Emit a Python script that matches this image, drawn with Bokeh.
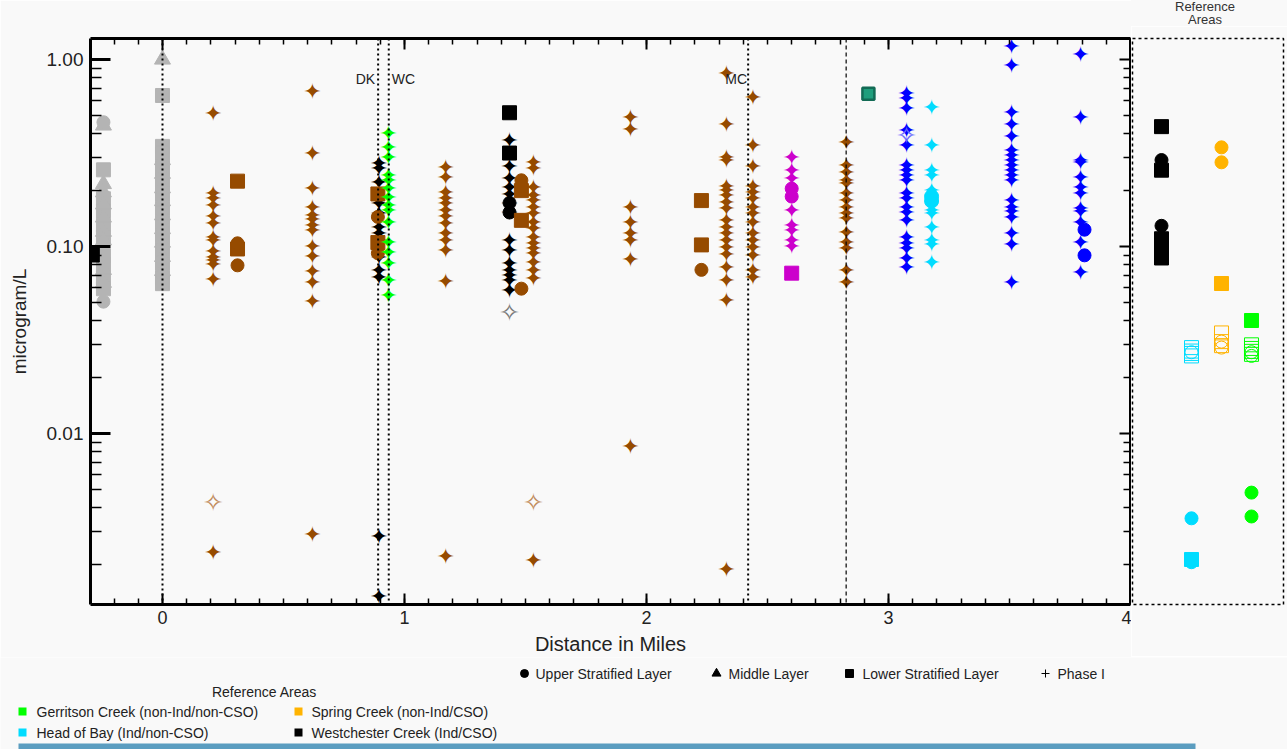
from bokeh.plotting import figure
from bokeh.layouts import row, column
from bokeh.models import (Range1d, LinearAxis, LogAxis, FixedTicker, SingleIntervalTicker,
                          PrintfTickFormatter, CustomJSTickFormatter, Span, Label, Div)
from bokeh.core.properties import value
from bokeh.embed import file_html
from bokeh.resources import INLINE

BG = "#F9F9F9"
FONT = "Liberation Sans"
STAR_FONT = "DejaVu Sans"

GRAY = "#B4B4B4"
BROWN = "#964B00"
BLACK = "#000000"
GREEN = "#00FF00"
MAGENTA = "#CC00CC"
TEAL = "#1F9E7C"
BLUE = "#0000FF"
CYAN = "#00DCFF"
ORANGE = "#FFB300"

# ---------------- data (distance in miles, microgram/L) ----------------
gray_sites = [-0.244, 0.0]
gray_circle_vals = [[0.462, 0.0507], [0.2, 0.13, 0.1, 0.07]]
gray_triangle_vals = [[0.444, 0.216, 0.195, 0.168, 0.143, 0.12, 0.108, 0.075, 0.064],
                      [1.0, 0.29, 0.245, 0.205, 0.175, 0.147, 0.124, 0.105, 0.088, 0.074]]
gray_square_vals = [[0.257, 0.18, 0.155, 0.13, 0.112, 0.0894, 0.08, 0.068, 0.0594],
                    [0.642, 0.343, 0.315, 0.265, 0.225, 0.19, 0.16, 0.135, 0.114, 0.096,
                     0.081, 0.068, 0.0633]]

brown_star_sites = [0.21, 0.62, 1.17, 1.533, 1.934, 2.33, 2.44, 2.826]
brown_star_vals = [
    [0.516, 0.191, 0.18, 0.166, 0.144, 0.132, 0.112, 0.108, 0.0935, 0.0875, 0.084, 0.0806, 0.0664, 0.00232],
    [0.674, 0.313, 0.205, 0.162, 0.147, 0.14, 0.129, 0.122, 0.10, 0.0885, 0.0731, 0.0645, 0.0505, 0.0029],
    [0.265, 0.235, 0.195, 0.18, 0.17, 0.156, 0.144, 0.133, 0.118, 0.108, 0.095, 0.065, 0.00221],
    [0.282, 0.26, 0.207, 0.188, 0.176, 0.162, 0.15, 0.135, 0.125, 0.112, 0.104, 0.0976, 0.0918,
     0.0824, 0.0744, 0.0675, 0.0021],
    [0.491, 0.42, 0.162, 0.134, 0.117, 0.108, 0.0857, 0.00855],
    [0.845, 0.448, 0.298, 0.29, 0.21, 0.199, 0.187, 0.172, 0.16, 0.138, 0.127, 0.117, 0.108,
     0.099, 0.091, 0.0775, 0.0658, 0.0516, 0.00187],
    [0.628, 0.347, 0.268, 0.21, 0.195, 0.18, 0.162, 0.15, 0.135, 0.117, 0.108, 0.099, 0.0895,
     0.0744, 0.068],
    [0.361, 0.27, 0.25, 0.226, 0.216, 0.191, 0.176, 0.162, 0.15, 0.1406, 0.119, 0.1055, 0.097,
     0.0744, 0.0645],
]
brown_open_star_sites = [0.21, 1.533]
brown_open_star_vals = [[0.0043], [0.0043]]
brown_mark_sites = [0.31, 0.89, 1.483, 2.227]
brown_circle_vals = [[0.104, 0.0793], [0.144, 0.092], [0.226, 0.21, 0.0595], [0.075]]
brown_square_vals = [[0.2236, 0.097], [0.191, 0.105], [0.199, 0.138], [0.176, 0.102]]

black_star_sites = [0.895, 1.434]
black_star_vals = [
    [0.277, 0.262, 0.22, 0.17, 0.15, 0.127, 0.118, 0.108, 0.087, 0.074, 0.068, 0.0028, 0.00135],
    [0.37, 0.268, 0.23, 0.207, 0.19, 0.17, 0.152, 0.108, 0.095, 0.081, 0.074, 0.07, 0.066, 0.058],
]
black_square_sites = [-0.29, 1.434]
black_square_vals = [[0.090], [0.519, 0.316]]
black_circle_sites = [1.434]
black_circle_vals = [[0.171, 0.152]]
gray_open_star_sites = [1.434]
gray_open_star_vals = [[0.0446]]

green_star_sites = [0.934]
green_star_vals = [[0.404, 0.34, 0.30, 0.24, 0.225, 0.205, 0.183, 0.166, 0.156, 0.134, 0.105,
                    0.093, 0.081, 0.066, 0.055]]

magenta_sites = [2.60]
magenta_star_vals = [[0.298, 0.255, 0.232, 0.156, 0.129, 0.122, 0.108, 0.0995]]
magenta_circle_vals = [[0.204, 0.185]]
magenta_square_vals = [[0.072]]

teal_square_sites = [2.917]
teal_square_vals = [[0.655]]

blue_star_sites = [3.074, 3.508, 3.793]
blue_star_vals = [
    [0.655, 0.62, 0.545, 0.417, 0.347, 0.27, 0.255, 0.24, 0.225, 0.191, 0.18, 0.162, 0.152,
     0.138, 0.112, 0.1035, 0.0972, 0.086, 0.0775],
    [1.17, 0.929, 0.523, 0.448, 0.388, 0.326, 0.307, 0.288, 0.271, 0.255, 0.24, 0.226, 0.176,
     0.162, 0.153, 0.1437, 0.117, 0.102, 0.0645],
    [1.07, 0.488, 0.288, 0.28, 0.235, 0.207, 0.191, 0.159, 0.153, 0.135, 0.1055, 0.073],
]
blue_circle_sites = [3.81]
blue_circle_vals = [[0.123, 0.0897]]
blue_open_star_sites = [3.074]
blue_open_star_vals = [[0.39]]

cyan_sites = [3.178]
cyan_star_vals = [[0.556, 0.347, 0.255, 0.24, 0.199, 0.156, 0.15, 0.127, 0.108, 0.103, 0.082]]
cyan_circle_vals = [[0.175, 0.185]]

station_lines = [0.0, 0.891, 0.935, 2.42]
station_names = ["", "DK", "WC", "MC"]
boundary_line = 2.825

# reference areas: 1 Westchester, 2 Head of Bay, 3 Spring Creek, 4 Gerritson
ref_sites = [1, 2, 3, 4]
ref_colors = [BLACK, CYAN, ORANGE, GREEN]
ref_circle_vals = [[0.29, 0.129], [0.00352, 0.00205], [0.339, 0.282], [0.00483, 0.0036]]
ref_square_vals = [[0.4375, 0.256, 0.11, 0.1, 0.0868], [0.00212], [0.0634], [0.0402]]
ref_open_square_vals = [[], [0.0288, 0.0276, 0.0268, 0.026], [0.0345, 0.031, 0.0295],
                        [0.0298, 0.0285, 0.0275, 0.0265]]
ref_open_circle_vals = [[], [0.0272], [0.031, 0.0288], [0.0272, 0.026]]

layer_names = ["Upper Stratified Layer", "Middle Layer", "Lower Stratified Layer", "Phase I"]
layer_markers = ["circle", "triangle", "square", "cross"]
refarea_names = ["Gerritson Creek (non-Ind/non-CSO)", "Spring Creek (non-Ind/CSO)",
                 "Head of Bay (Ind/non-CSO)", "Westchester Creek (Ind/CSO)"]
refarea_colors = [GREEN, ORANGE, CYAN, BLACK]


def expand(sites, vals):
    xs, ys = [], []
    for s, v in zip(sites, vals):
        xs += [s] * len(v)
        ys += list(v)
    return xs, ys


def draw_stars(p, sites, vals, color, glyph="\u2726", size="22px", alpha=1.0):
    xs, ys = expand(sites, vals)
    p.text(x=xs, y=ys, text=value(glyph), text_font=value(STAR_FONT), text_font_size=size,
           text_align="center", text_baseline="middle", text_color=color, text_alpha=alpha)


def draw_marks(p, sites, vals, marker, color, size, fill=True, line_color=None, lw=1):
    xs, ys = expand(sites, vals)
    if not xs:
        return
    p.scatter(x=xs, y=ys, marker=marker, size=size,
              fill_color=color if fill else None,
              line_color=line_color or color, line_width=lw)


blank = CustomJSTickFormatter(code="return ''")

# ---------------- main figure ----------------
Y_RANGE = Range1d(0.001218, 1.295)
p = figure(x_range=Range1d(-0.2975, 4.0), y_range=Y_RANGE, y_axis_type="log",
           frame_width=1040, frame_height=566,
           min_border_left=90, min_border_right=1, min_border_top=38, min_border_bottom=52,
           output_backend="svg", toolbar_location=None,
           background_fill_color=BG, border_fill_color=BG, outline_line_color=None)
p.grid.visible = False

minor_y = [k * 10.0 ** e for e in (-3, -2, -1) for k in range(2, 10)]

ax_b = p.xaxis[0]
ax_b.ticker = SingleIntervalTicker(interval=1, num_minor_ticks=10)
ax_b.axis_label = "Distance in Miles"
ax_b.axis_label_text_font = FONT
ax_b.axis_label_text_font_size = "20px"
ax_b.axis_label_text_font_style = "normal"
ax_b.axis_label_text_color = "#222222"
ax_b.axis_label_standoff = 6
ax_b.major_label_text_font = FONT
ax_b.major_label_text_font_size = "18px"
ax_b.major_label_text_color = "#222222"
ax_b.major_label_standoff = 6
ax_b.major_tick_in = 11
ax_b.major_tick_out = 0
ax_b.minor_tick_in = 6
ax_b.minor_tick_out = 0
ax_b.axis_line_width = 3
ax_b.major_tick_line_width = 2
ax_b.minor_tick_line_width = 1.5

ax_l = p.yaxis[0]
ax_l.ticker = FixedTicker(ticks=[0.01, 0.1, 1.0], minor_ticks=minor_y)
ax_l.formatter = PrintfTickFormatter(format="%.2f")
ax_l.axis_label = "microgram/L"
ax_l.axis_label_text_font = FONT
ax_l.axis_label_text_font_size = "19px"
ax_l.axis_label_text_font_style = "normal"
ax_l.axis_label_text_color = "#222222"
ax_l.axis_label_standoff = 14
ax_l.major_label_text_font = FONT
ax_l.major_label_text_font_size = "19px"
ax_l.major_label_text_color = "#222222"
ax_l.major_label_standoff = 7
ax_l.major_tick_in = 20
ax_l.major_tick_out = 0
ax_l.minor_tick_in = 11
ax_l.minor_tick_out = 0
ax_l.axis_line_width = 3
ax_l.major_tick_line_width = 3
ax_l.minor_tick_line_width = 1.5

ax_t = LinearAxis(ticker=SingleIntervalTicker(interval=1, num_minor_ticks=10),
                  formatter=blank, major_label_text_font_size="1px", major_label_standoff=0,
                  major_tick_in=11, major_tick_out=0, minor_tick_in=6, minor_tick_out=0,
                  axis_line_width=3, major_tick_line_width=2, minor_tick_line_width=1.5)
p.add_layout(ax_t, "above")
ax_r = LogAxis(ticker=FixedTicker(ticks=[0.01, 0.1, 1.0], minor_ticks=minor_y),
               formatter=blank, major_label_text_font_size="1px", major_label_standoff=0,
               major_tick_in=11, major_tick_out=0, minor_tick_in=7, minor_tick_out=0,
               axis_line_width=3, major_tick_line_width=2, minor_tick_line_width=1.5)
p.add_layout(ax_r, "right")

for loc in station_lines:
    p.add_layout(Span(location=loc, dimension="height", line_color="black",
                      line_width=2, line_dash="2 3"))
p.add_layout(Span(location=boundary_line, dimension="height", line_color="black",
                  line_width=1.2, line_dash="4 3"))

label_y = 0.791
for loc, name in zip(station_lines, station_names):
    if not name:
        continue
    right = name in ("DK", "MC")
    p.add_layout(Label(x=loc, y=label_y, text=name, text_font=FONT, text_font_size="14px",
                       text_color="#222222", text_baseline="middle",
                       text_align="right" if right else "left",
                       x_offset=(-3 if name == "DK" else (-1 if name == "MC" else 3))))

# gray
draw_marks(p, gray_sites, gray_square_vals, "square", GRAY, 14)
draw_marks(p, gray_sites, gray_triangle_vals, "triangle", GRAY, 16)
draw_marks(p, gray_sites, gray_circle_vals, "circle", GRAY, 13)
# black phase I
draw_stars(p, black_star_sites, black_star_vals, BLACK)
draw_stars(p, gray_open_star_sites, gray_open_star_vals, "#777777", glyph="\u2727", size="25px")
draw_marks(p, black_square_sites, black_square_vals, "square", BLACK, 14)
draw_marks(p, black_circle_sites, black_circle_vals, "circle", BLACK, 13)
# brown
draw_stars(p, brown_star_sites, brown_star_vals, BROWN)
draw_stars(p, brown_open_star_sites, brown_open_star_vals, "#C08A5A", glyph="\u2727", size="25px")
draw_marks(p, brown_mark_sites, brown_square_vals, "square", BROWN, 14)
draw_marks(p, brown_mark_sites, brown_circle_vals, "circle", BROWN, 13)
# green
draw_stars(p, green_star_sites, green_star_vals, GREEN)
# magenta
draw_stars(p, magenta_sites, magenta_star_vals, MAGENTA)
draw_marks(p, magenta_sites, magenta_circle_vals, "circle", MAGENTA, 13)
draw_marks(p, magenta_sites, magenta_square_vals, "square", MAGENTA, 14)
# teal
draw_marks(p, teal_square_sites, teal_square_vals, "square", TEAL, 12, line_color="#136B55", lw=2.5)
# blue
draw_stars(p, blue_star_sites, blue_star_vals, BLUE)
draw_stars(p, blue_open_star_sites, blue_open_star_vals, "#6A6AFF", glyph="\u2727", size="25px")
draw_marks(p, blue_circle_sites, blue_circle_vals, "circle", BLUE, 13)
# cyan
draw_stars(p, cyan_sites, cyan_star_vals, CYAN)
draw_marks(p, cyan_sites, cyan_circle_vals, "circle", CYAN, 14)

# ---------------- reference-area panel ----------------
q = figure(x_range=Range1d(0.0333, 5.0667), y_range=Y_RANGE, y_axis_type="log",
           frame_width=151, frame_height=566,
           min_border_left=1, min_border_right=4, min_border_top=12, min_border_bottom=52,
           x_axis_location=None, y_axis_location=None,
           output_backend="svg", toolbar_location=None,
           background_fill_color=BG, border_fill_color=BG,
           outline_line_color="black", outline_line_width=1.5, outline_line_dash="3 3")
q.grid.visible = False
for s, c, cv, sv, osv, ocv in zip(ref_sites, ref_colors, ref_circle_vals, ref_square_vals,
                                  ref_open_square_vals, ref_open_circle_vals):
    draw_marks(q, [s], [osv], "square", c, 14, fill=False)
    draw_marks(q, [s], [ocv], "circle", c, 13, fill=False)
    draw_marks(q, [s], [cv], "circle", c, 13)
    draw_marks(q, [s], [sv], "square", c, 14)

ref_title = Div(text="Reference<br>Areas", width=156, height=26, margin=0,
                styles={"text-align": "center", "font-family": FONT, "font-size": "13px",
                        "line-height": "13px", "color": "#333333", "padding-right": "8px",
                        "box-sizing": "border-box", "background-color": BG})

# ---------------- legend strip (page pixel coordinates) ----------------
L = figure(width=1287, height=93, x_range=Range1d(0, 1287), y_range=Range1d(749, 656),
           min_border=0, x_axis_location=None, y_axis_location=None,
           output_backend="svg", toolbar_location=None,
           background_fill_color=BG, border_fill_color=BG, outline_line_color=None)
L.grid.visible = False

row1_y = 672
layer_mark_x = [524, 716, 849, 1045]
layer_text_x = [535, 728, 862, 1057]
layer_mark_size = [8, 9, 8, 8]
for name, mk, mx, tx, ms in zip(layer_names, layer_markers, layer_mark_x, layer_text_x, layer_mark_size):
    L.scatter(x=[mx], y=[row1_y], marker=mk, size=ms, color="black", line_width=1)
    L.text(x=[tx], y=[row1_y], text=[name], text_font=value(FONT), text_font_size="14px",
           text_color="#222222", text_baseline="middle", text_align="left")

L.text(x=[264], y=[690], text=["Reference Areas"], text_font=value(FONT), text_font_size="14px",
       text_color="#222222", text_baseline="middle", text_align="center")

ref_mark_x = [22, 298, 22, 298]
ref_text_x = [36, 311, 36, 311]
ref_row_y = [710, 710, 731, 731]
for name, c, mx, tx, ry in zip(refarea_names, refarea_colors, ref_mark_x, ref_text_x, ref_row_y):
    L.scatter(x=[mx], y=[ry], marker="square", size=8, fill_color=c, line_color=None)
    L.text(x=[tx], y=[ry], text=[name], text_font=value(FONT), text_font_size="14px",
           text_color="#222222", text_baseline="middle", text_align="left")

L.quad(left=[18], right=[1195], top=[742], bottom=[749], fill_color="#5B9DC0", line_color=None)

layout = column(row(p, column(ref_title, q)), L)
open("out.html", "w").write(file_html(layout, INLINE))
